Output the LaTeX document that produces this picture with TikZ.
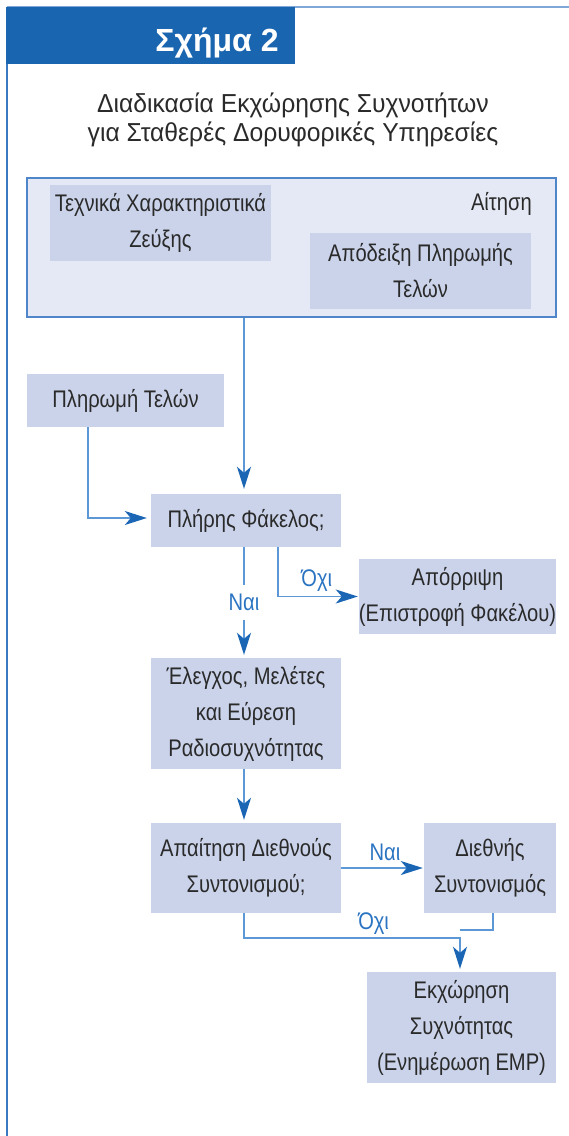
\documentclass[tikz,border=0pt]{standalone}
\usepackage{fontspec}
\setmainfont{Liberation Sans}
\newfontfamily\bodyfont[FakeStretch=0.84]{Liberation Sans}
\newfontfamily\subfont[FakeStretch=0.95]{Liberation Sans}
\usetikzlibrary{arrows.meta}
\definecolor{bandblue}{HTML}{1A65B0}
\definecolor{frameblue}{HTML}{3A78C2}
\definecolor{topline}{HTML}{7FA8D8}
\definecolor{appfill}{HTML}{E4E9F5}
\definecolor{appdraw}{HTML}{4F86C9}
\definecolor{boxfill}{HTML}{CAD3EA}
\definecolor{linkblue}{HTML}{5C97D6}
\definecolor{tipblue}{HTML}{1A66B5}
\definecolor{labblue}{HTML}{2A74C2}
\definecolor{txt}{HTML}{2A2A2A}
\tikzset{
  stepbox/.style={fill=boxfill, inner sep=0pt, align=center, text=txt,
    font=\bodyfont\fontsize{24}{36}\selectfont},
  link/.style={draw=linkblue, line width=1.4pt},
  tip/.style={-{Stealth[length=22pt,width=14pt,inset=6pt,color=tipblue]}},
  lab/.style={text=labblue, font=\bodyfont\fontsize{24}{27}\selectfont, inner sep=1pt},
  plain/.style={text=txt, font=\bodyfont\fontsize{24}{36}\selectfont, inner sep=0pt},
}
\begin{document}
\begin{tikzpicture}[x=1pt, y=-1pt]
\useasboundingbox (0,0) rectangle (569,1136);
\fill[white] (0,0) rectangle (569,1136);
% frame
\draw[topline, line width=1.8pt] (7,7) -- (569,7);
\draw[frameblue, line width=1.8pt] (7,7) -- (7,1136);
\fill[bandblue] (6,7) rectangle (295,64);
\node[anchor=base, text=white, font=\fontsize{32}{32}\selectfont\bfseries, inner sep=0pt] (title) at (217,51) {Σχήμα 2};
\node[anchor=base, text=txt, font=\subfont\fontsize{26}{29}\selectfont, inner sep=0pt] (sub1) at (293,112) {Διαδικασία Εκχώρησης Συχνοτήτων};
\node[anchor=base, text=txt, font=\subfont\fontsize{26}{29}\selectfont, inner sep=0pt] (sub2) at (293,141) {για Σταθερές Δορυφορικές Υπηρεσίες};
% application group
\node[fill=appfill, draw=appdraw, line width=1.4pt, inner sep=0pt, minimum width=529pt, minimum height=139pt] (app) at (291.5,247.5) {};
\node[stepbox, minimum width=221pt, minimum height=76pt] (tech) at (160.5,223) {Τεχνικά Χαρακτηριστικά\\Ζεύξης};
\node[plain, anchor=base east] (aitisi) at (532,210) {Αίτηση};
\node[stepbox, minimum width=221pt, minimum height=76pt] (receipt) at (420.5,271) {Απόδειξη Πληρωμής\\Τελών};
% process boxes
\node[stepbox, minimum width=197pt, minimum height=53pt] (pay) at (125.5,400.5) {Πληρωμή Τελών};
\node[stepbox, minimum width=190pt, minimum height=53pt] (full) at (246,520.5) {Πλήρης Φάκελος;};
\node[stepbox, minimum width=197pt, minimum height=75pt] (reject) at (457.5,596.5) {Απόρριψη\\(Επιστροφή Φακέλου)};
\node[stepbox, minimum width=190pt, minimum height=111pt] (check) at (246,713.5) {Έλεγχος, Μελέτες\\και Εύρεση\\Ραδιοσυχνότητας};
\node[stepbox, minimum width=190pt, minimum height=90pt] (coord) at (246,868) {Απαίτηση Διεθνούς\\Συντονισμού;};
\node[stepbox, minimum width=132pt, minimum height=90pt] (intl) at (490,868) {Διεθνής\\Συντονισμός};
\node[stepbox, minimum width=189pt, minimum height=111pt] (assign) at (461.5,1027.5) {Εκχώρηση\\Συχνότητας\\(Ενημέρωση ΕΜΡ)};
% helper coordinates
\coordinate (colx) at (244,0);
\coordinate (payx) at (88,0);
\coordinate (nox) at (278,0);
\coordinate (intlx) at (493,0);
\coordinate (merge) at (460,938);
\coordinate (join) at (460,930);
% connectors
\draw[link, tip, shorten >=5pt] (app.south -| colx) -- (full.north -| colx);
\draw[link, tip, shorten >=4pt] (pay.south -| payx) |- ([yshift=2.5pt]full.west);
\draw[link, tip, shorten >=1pt] (full.south -| nox) |- node[lab, pos=0.74, above=3pt] {Όχι} (reject.west);
\draw[link, tip, shorten >=3pt] (full.south -| colx) -- node[lab, fill=white, inner ysep=9pt, inner xsep=2pt] {Ναι} (check.north -| colx);
\draw[link, tip, shorten >=3pt] (check.south -| colx) -- (coord.north -| colx);
\draw[link, tip, shorten >=1pt] (coord.east) -- node[lab, pos=0.53, above=6pt] {Ναι} (intl.west);
\draw[link] (intl.south -| intlx) |- (join);
\draw[link, tip, shorten >=3pt] (coord.south -| colx) |- node[lab, pos=0.80, above=2pt] {Όχι} (merge) -- (assign.north -| merge);
\end{tikzpicture}
\end{document}
